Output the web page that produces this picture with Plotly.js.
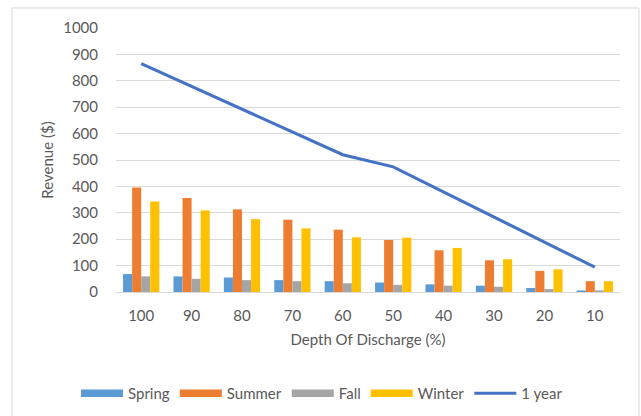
<!DOCTYPE html>
<html>
<head>
<meta charset="utf-8">
<script src="https://cdn.plot.ly/plotly-3.0.1.min.js"></script>
<style>
  html, body { margin: 0; padding: 0; background: #fff; }
  #chart { width: 641px; height: 416px; }
</style>
</head>
<body>
<div id="chart"></div>
<script>
const categories = ["100", "90", "80", "70", "60", "50", "40", "30", "20", "10"];
const spring = [68, 59, 55, 45, 41, 36, 29, 24, 15, 6];
const summer = [396, 356, 313, 274, 236, 197, 158, 120, 80, 41];
const fall   = [59, 50, 45, 41, 33, 27, 24, 20, 11, 6];
const winter = [343, 309, 276, 241, 207, 206, 167, 124, 86, 41];
const oneYear = [865, 779, 693, 606, 520, 474, 380, 285, 189, 94];
const yTicks = [0, 100, 200, 300, 400, 500, 600, 700, 800, 900, 1000];

const seriesNames = ["Spring", "Summer", "Fall", "Winter"];
const seriesValues = [spring, summer, fall, winter];
const seriesColors = ["#5B9BD5", "#ED7D31", "#A5A5A5", "#FFC000"];

const FONT = "Lato, 'Open Sans', sans-serif";
const GREY = "#595959";

const traces = [];
seriesNames.forEach((name, i) => {
  traces.push({ type: "bar", name: name, x: categories, y: seriesValues[i],
    marker: { color: seriesColors[i] }, showlegend: false, legendgroup: name });
});
// legend entries drawn as wide colour bands (like the original's rectangles)
seriesNames.forEach((name, i) => {
  traces.push({ type: "scatter", mode: "lines", name: name, x: [null], y: [null],
    line: { color: seriesColors[i], width: 7.5 }, legendgroup: name, hoverinfo: "skip" });
});
traces.push({ type: "scatter", mode: "lines", name: "1 year", x: categories, y: oneYear,
  line: { color: "#4472C4", width: 3 } });

const layout = {
  width: 641, height: 416,
  margin: { l: 116, r: 21, t: 28, b: 124 },
  paper_bgcolor: "#ffffff",
  plot_bgcolor: "rgba(0,0,0,0)",
  font: { family: FONT, color: GREY, size: 15 },
  barmode: "group",
  bargap: 0.28,
  bargroupgap: 0,
  showlegend: true,
  legend: {
    orientation: "h",
    xref: "container", yref: "container",
    x: 0.1186, xanchor: "left", y: 0.054, yanchor: "middle",
    font: { family: FONT, size: 15, color: GREY }, traceorder: "normal",
    itemwidth: 42, bgcolor: "rgba(0,0,0,0)"
  },
  shapes: [{
    type: "rect", xref: "paper", yref: "paper",
    x0: -0.2063, x1: 1.0377, y0: -0.523, y1: 1.0758,
    line: { color: "#D9D9D9", width: 1 }, fillcolor: "rgba(0,0,0,0)", layer: "below"
  }],
  xaxis: {
    type: "category",
    categoryorder: "array", categoryarray: categories,
    showgrid: false, showline: true, linecolor: "#D9D9D9", linewidth: 1,
    ticks: "outside", ticklen: 10, tickcolor: "rgba(0,0,0,0)",
    tickfont: { family: FONT, size: 15, color: GREY },
    title: { text: "Depth Of Discharge (%)", font: { family: FONT, size: 15, color: GREY }, standoff: 11 }
  },
  yaxis: {
    range: [0, 1000], tickvals: yTicks, ticktext: yTicks.map(String),
    showgrid: true, gridcolor: "#D9D9D9", gridwidth: 1,
    zeroline: false, showline: false,
    ticks: "outside", ticklen: 14, tickcolor: "rgba(0,0,0,0)",
    tickfont: { family: FONT, size: 15, color: GREY },
    title: { text: "Revenue ($)", font: { family: FONT, size: 15, color: GREY }, standoff: 5 }
  }
};

Plotly.newPlot("chart", traces, layout, { displayModeBar: false, staticPlot: true });
</script>
</body>
</html>
